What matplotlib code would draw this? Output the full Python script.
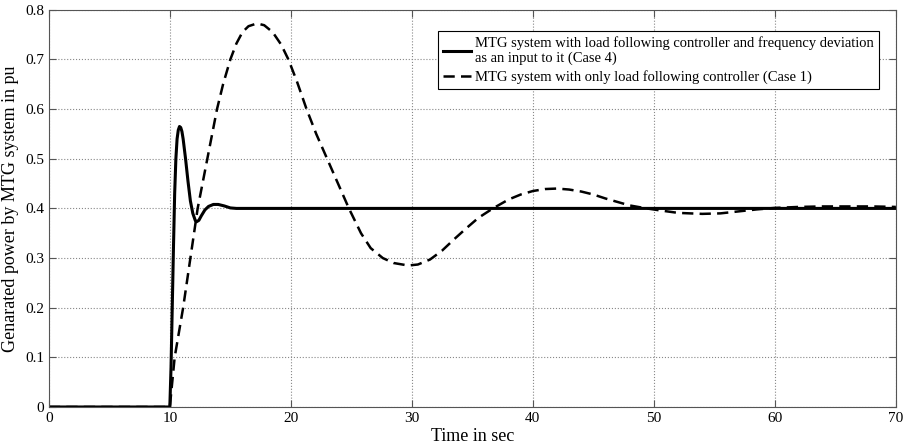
import matplotlib.pyplot as plt
import numpy as np

plt.rcParams['font.family'] = ['Liberation Serif', 'DejaVu Serif']

# Case 4: load following controller + frequency deviation input
t_case4 = [0, 10.0, 10.1, 10.2, 10.3, 10.4, 10.5, 10.6, 10.7, 10.8, 10.9, 11.0, 11.1, 11.2,
           11.3, 11.5, 11.7, 11.9, 12.1, 12.2, 12.4, 12.6, 12.9, 13.2, 13.6, 14.0, 14.5,
           15.0, 15.5, 70]
p_case4 = [0, 0, 0.08, 0.20, 0.32, 0.43, 0.50, 0.54, 0.558, 0.565, 0.563, 0.555, 0.54, 0.52,
           0.50, 0.455, 0.415, 0.39, 0.376, 0.373, 0.376, 0.385, 0.397, 0.404, 0.408, 0.408,
           0.405, 0.401, 0.40, 0.40]

# Case 1: only load following controller
t_case1 = [0, 10.0, 10.4, 11.1, 11.7, 12.3, 13.1, 13.9, 14.4, 15.0, 15.5, 16.0, 16.5, 17.0,
           17.3, 17.8, 18.5, 19.2, 19.8, 20.5, 21.3, 22.1, 23.0, 23.9, 24.8, 25.8, 26.6,
           27.6, 28.5, 29.7, 30.5, 31.5, 32.5, 33.5, 34.5, 35.5, 36.7, 38.0, 39.0, 40.0,
           41.0, 42.0, 43.0, 44.0, 45.0, 46.0, 47.0, 48.0, 49.4, 50.5, 52.0, 54.0, 55.5,
           57.0, 58.5, 60.0, 62.0, 64.0, 66.0, 68.0, 70.0]
p_case1 = [0, 0, 0.10, 0.20, 0.30, 0.40, 0.50, 0.60, 0.65, 0.70, 0.732, 0.755, 0.767, 0.771,
           0.772, 0.769, 0.755, 0.73, 0.70, 0.656, 0.60, 0.55, 0.50, 0.45, 0.40, 0.35, 0.32,
           0.30, 0.29, 0.285, 0.287, 0.297, 0.315, 0.338, 0.36, 0.381, 0.40, 0.418, 0.428,
           0.435, 0.439, 0.44, 0.438, 0.434, 0.428, 0.42, 0.413, 0.406, 0.40, 0.396, 0.391,
           0.389, 0.39, 0.394, 0.398, 0.401, 0.403, 0.404, 0.404, 0.404, 0.403]

label_case4 = 'MTG system with load following controller and frequency deviation\nas an input to it (Case 4)'
label_case1 = 'MTG system with only load following controller (Case 1)'

fig = plt.figure(figsize=(9.04, 4.47), dpi=100)
ax = fig.add_axes([0.054, 0.0895, 0.937, 0.8885])

ax.plot(t_case4, p_case4, color='black', lw=2.2, label=label_case4)
ax.plot(t_case1, p_case1, color='black', lw=1.8, ls=(0, (4.5, 2.5)), label=label_case1)

ax.set_xlim(0, 70)
ax.set_ylim(0, 0.8)
ax.set_xticks(np.arange(0, 71, 10))
ax.set_yticks(np.arange(0, 0.81, 0.1))
ax.set_yticklabels(['0', '0.1', '0.2', '0.3', '0.4', '0.5', '0.6', '0.7', '0.8'])
ax.grid(True, color='#888888', ls=':', lw=0.8)
ax.tick_params(direction='in', top=True, right=True, labelsize=11, length=5, color='#555555')
for s in ax.spines.values():
    s.set_color('#555555')

ax.set_xlabel('Time in sec', fontsize=13, labelpad=2)
ax.set_ylabel('Genarated power by MTG system in pu', fontsize=13, labelpad=4)

leg = ax.legend(loc='upper right', bbox_to_anchor=(0.9885, 0.965), fontsize=10.5,
                frameon=True, fancybox=False, edgecolor='black', framealpha=1,
                handlelength=1.9, handletextpad=0.3, borderpad=0.35, labelspacing=0.3)
leg.get_frame().set_linewidth(0.8)

fig.savefig('out.png', dpi=100)
